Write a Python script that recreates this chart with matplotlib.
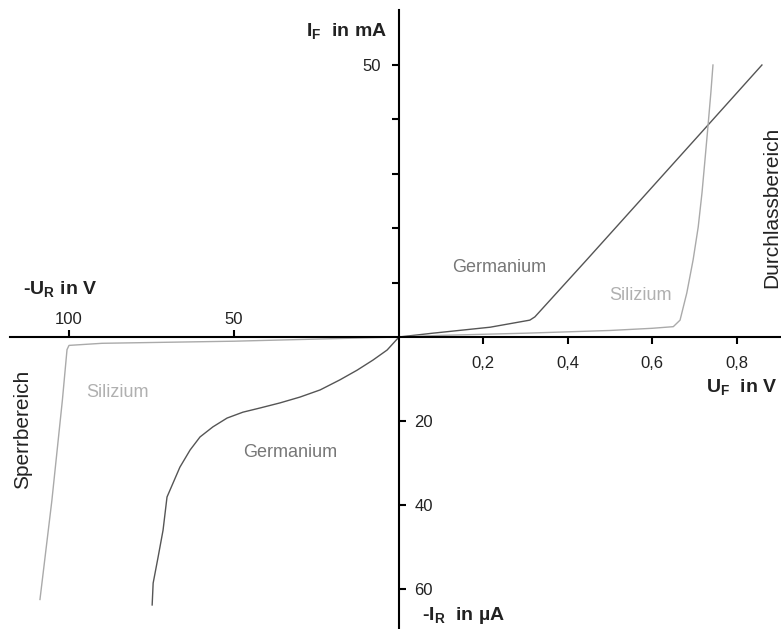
import matplotlib.pyplot as plt

plt.rcParams['font.family'] = ['Liberation Sans', 'DejaVu Sans']

# Durchlassbereich (forward): U_F in V, I_F in mA
ge_fwd_u = [0.0, 0.08, 0.216, 0.31, 0.322, 0.445, 0.735, 0.86]
ge_fwd_i = [0.0, 0.7, 1.8, 3.1, 3.7, 14.2, 39.2, 50.0]
si_fwd_u = [0.0, 0.1, 0.3, 0.5, 0.6, 0.65, 0.666, 0.682, 0.697, 0.709, 0.718,
            0.725, 0.732, 0.739, 0.744]
si_fwd_i = [0.0, 0.3, 0.7, 1.2, 1.6, 1.9, 3.1, 8.1, 14.2, 20.2, 26.5,
            32.5, 38.6, 44.9, 50.0]

# Sperrbereich (reverse): -U_R in V, -I_R in uA
ge_rev_u = [0.0, 3.6, 7.9, 12.7, 17.9, 23.9, 30.0, 36.1, 42.1, 47.3, 52.1,
            56.4, 60.3, 63.3, 66.4, 70.3, 71.5, 73.0, 74.5, 74.8]
ge_rev_i = [0.0, 3.1, 5.5, 7.9, 10.2, 12.6, 14.3, 15.7, 16.9, 17.9, 19.3,
            21.4, 23.8, 26.9, 31.0, 38.1, 46.0, 52.4, 58.6, 63.8]
si_rev_u = [0.0, 50.0, 90.0, 100.0, 100.6, 102.0, 105.2, 108.8]
si_rev_i = [0.0, 1.0, 1.5, 2.0, 3.0, 15.0, 39.0, 62.5]

fwd_xticks = [0.2, 0.4, 0.6, 0.8]
fwd_xlabels = ['0,2', '0,4', '0,6', '0,8']
fwd_yticks = [10, 20, 30, 40, 50]
fwd_ylabels = ['', '', '', '', '50']
rev_xticks = [50, 100]
rev_xlabels = ['50', '100']
rev_yticks = [20, 40, 60]
rev_ylabels = ['20', '40', '60']

W, H = 781, 629
ox, oy = 399, 337          # origin in pixels
px_per_v, px_per_ma = 422, 5.44
px_per_vr, px_per_ua = 3.3, 4.2

ge_col = '#555555'
si_col = '#aaaaaa'
txt_col = '#222222'

fig = plt.figure(figsize=(W / 100, H / 100), dpi=100)

# forward quadrant
axf = fig.add_axes([ox / W, (H - oy) / H, (W - ox) / W, oy / H])
axf.set_xlim(0, (W - ox) / px_per_v)
axf.set_ylim(0, oy / px_per_ma)
axf.patch.set_alpha(0)
axf.plot(ge_fwd_u, ge_fwd_i, color=ge_col, lw=1.0)
axf.plot(si_fwd_u, si_fwd_i, color=si_col, lw=1.0)
for s in ['top', 'right']:
    axf.spines[s].set_visible(False)
axf.spines['left'].set_linewidth(1.5)
axf.spines['bottom'].set_linewidth(1.5)
axf.spines['left'].set_bounds(0, (oy - 10) / px_per_ma)
axf.set_xticks(fwd_xticks)
axf.set_xticklabels(fwd_xlabels)
axf.set_yticks(fwd_yticks)
axf.set_yticklabels(fwd_ylabels)
axf.tick_params(axis='x', direction='out', length=5, width=1.5, pad=9,
                labelsize=12, labelcolor=txt_col)
axf.tick_params(axis='y', direction='out', length=5, width=1.5, pad=8,
                labelsize=12, labelcolor=txt_col)

axf.text(-0.028, 56.1, 'I$_\\mathregular{F}$  in mA', ha='right', va='center',
         fontsize=14, fontweight='bold', color=txt_col)
axf.text(0.898, -9.4, 'U$_\\mathregular{F}$  in V', ha='right', va='center',
         fontsize=14, fontweight='bold', color=txt_col)
axf.text(0.237, 12.7, 'Germanium', ha='center', va='center', fontsize=13, color='#777777')
axf.text(0.573, 7.7, 'Silizium', ha='center', va='center', fontsize=13, color='#b0b0b0')
axf.text(0.884, 23.9, 'Durchlassbereich', ha='center', va='center', rotation=90,
         fontsize=15, color=txt_col)

# reverse quadrant
axr = fig.add_axes([0, 0, ox / W, (H - oy) / H])
axr.set_xlim(ox / px_per_vr, 0)
axr.set_ylim((H - oy) / px_per_ua, 0)
axr.patch.set_alpha(0)
axr.plot(ge_rev_u, ge_rev_i, color=ge_col, lw=1.0)
axr.plot(si_rev_u, si_rev_i, color=si_col, lw=1.0)
for s in ['bottom', 'left']:
    axr.spines[s].set_visible(False)
axr.spines['top'].set_linewidth(1.5)
axr.spines['right'].set_linewidth(1.5)
axr.spines['top'].set_bounds(0, (ox - 10) / px_per_vr)
axr.xaxis.tick_top()
axr.yaxis.tick_right()
axr.set_xticks(rev_xticks)
axr.set_xticklabels(rev_xlabels)
axr.set_yticks(rev_yticks)
axr.set_yticklabels(rev_ylabels)
axr.tick_params(axis='x', direction='out', length=5, width=1.5, pad=2,
                labelsize=12, labelcolor=txt_col)
axr.tick_params(axis='y', direction='out', length=5, width=1.5, pad=6,
                labelsize=12, labelcolor=txt_col)

axr.text(113.9, -11.2, '-U$_\\mathregular{R}$ in V', ha='left', va='center',
         fontsize=14, fontweight='bold', color=txt_col)
axr.text(-7.0, 66.2, '-I$_\\mathregular{R}$  in µA', ha='left', va='center',
         fontsize=14, fontweight='bold', color=txt_col)
axr.text(85.2, 13.1, 'Silizium', ha='center', va='center', fontsize=13, color='#b0b0b0')
axr.text(33.0, 27.6, 'Germanium', ha='center', va='center', fontsize=13, color='#777777')
axr.text(114.2, 22.1, 'Sperrbereich', ha='center', va='center', rotation=90,
         fontsize=15, color=txt_col)

fig.savefig('out.png', dpi=100)
